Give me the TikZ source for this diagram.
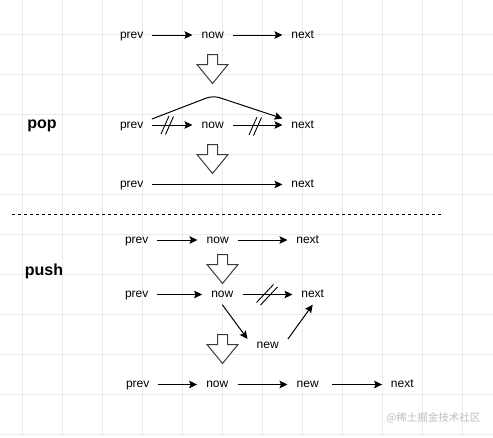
\documentclass[tikz,border=0pt]{standalone}
\usepackage{fontspec}
\setmainfont{Liberation Sans}
\newfontfamily\cjk{Noto Sans CJK SC}
\usepackage{tikz}
\usetikzlibrary{arrows.meta, positioning, calc}
\definecolor{gridgray}{RGB}{235, 235, 235}
\definecolor{outline}{RGB}{60, 60, 60}
\definecolor{markgray}{RGB}{190, 190, 190}

\begin{document}
\begin{tikzpicture}[
    x=1pt, y=-1pt,
    item/.style={rectangle, minimum width=40pt, minimum height=20pt, inner sep=0pt, text height=6.2pt, text depth=0pt, font=\fontsize{12}{14}\selectfont},
    title/.style={font=\fontsize{16}{18}\selectfont\bfseries},
    link/.style={-{Stealth[length=8pt, width=7.5pt, inset=1.5pt]}, line width=1pt, black},
    bigdown/.pic={\draw[line width=1pt, draw=outline, fill=white] (-5,0) -- (5,0) -- (5,10) -- (15.5,10) -- (0,29) -- (-15.5,10) -- (-5,10) -- cycle;},
    cutsteep/.pic={\draw[line width=0.9pt] (-6.5,9) -- (1.5,-9); \draw[line width=0.9pt] (-2,9.5) -- (6,-8.5);},
    cutflat/.pic={\draw[line width=0.9pt] (-11,7.5) -- (6,-10.5); \draw[line width=0.9pt] (-7,10) -- (10,-8);}
]
    % Canvas and grid
    \useasboundingbox (0,0) rectangle (493,437);
    \fill[white] (0,0) rectangle (493,437);
    \foreach \gx in {22,62,...,462} \draw[gridgray, line width=0.8pt] (\gx,0) -- (\gx,437);
    \foreach \gy in {34,74,...,434} \draw[gridgray, line width=0.8pt] (0,\gy) -- (493,\gy);

    % pop
    \node[title] (pop) at (42, 126) {pop};

    \node[item] (p1) at (131.7, 35) {prev};
    \node[item] (w1) at (212.7, 35) {now};
    \node[item] (n1) at (302.7, 35) {next};
    \draw[link] (p1) -- (w1);
    \draw[link] (w1) -- (n1);
    \pic at (212.5, 54.5) {bigdown};

    \node[item] (p2) at (131.7, 125) {prev};
    \node[item] (w2) at (212.7, 125) {now};
    \node[item] (n2) at (302.7, 125) {next};
    \coordinate (hop) at (213, 95.5);
    \draw[link] (p2) -- (w2);
    \draw[link] (w2) -- (n2);
    \draw[link, rounded corners=7pt] ([yshift=6pt]p2.east) -- (hop) -- ([yshift=6.5pt]n2.west);
    \pic at (167.5, 125) {cutsteep};
    \pic at (255.5, 126) {cutsteep};
    \pic at (212.5, 144.5) {bigdown};

    \node[item] (p3) at (131.7, 184.5) {prev};
    \node[item] (n3) at (302.7, 184.5) {next};
    \draw[link] (p3) -- (n3);

    % Separator
    \draw[line width=0.8pt, dash pattern=on 3pt off 3pt] (12, 214) -- (442, 214);

    % push
    \node[title] (push) at (44, 271.5) {push};

    \node[item] (p4) at (136.7, 240) {prev};
    \node[item] (w4) at (217.7, 240) {now};
    \node[item] (n4) at (307.7, 240) {next};
    \draw[link] (p4) -- (w4);
    \draw[link] (w4) -- (n4);
    \pic at (222.5, 254.5) {bigdown};

    \node[item] (p5) at (136.7, 294.5) {prev};
    \node[item] (w5) at (222.3, 294.5) {now};
    \node[item] (n5) at (312.7, 294.5) {next};
    \node[item] (e5) at (267.7, 345) {new};
    \draw[link] (p5) -- (w5);
    \draw[link] (w5) -- (n5);
    \draw[link] (w5.south) -- ([yshift=6pt]e5.west);
    \draw[link] ([yshift=6pt]e5.east) -- (n5.south);
    \pic at (267.5, 295) {cutflat};
    \pic at (222.5, 334.5) {bigdown};

    \node[item] (p6) at (137.7, 384.5) {prev};
    \node[item] (w6) at (217.3, 384.5) {now};
    \node[item] (e6) at (307.7, 384.5) {new};
    \node[item] (n6) at (402.3, 384.5) {next};
    \draw[link] (p6) -- (w6);
    \draw[link] (w6) -- (e6);
    \draw[link] ([xshift=4.5pt]e6.east) -- (n6);

    % Watermark
    \node[text=markgray, font=\cjk\fontsize{10.5}{12}\selectfont, inner sep=0pt] (mark) at (433.5, 418) {@稀土掘金技术社区};

\end{tikzpicture}
\end{document}
